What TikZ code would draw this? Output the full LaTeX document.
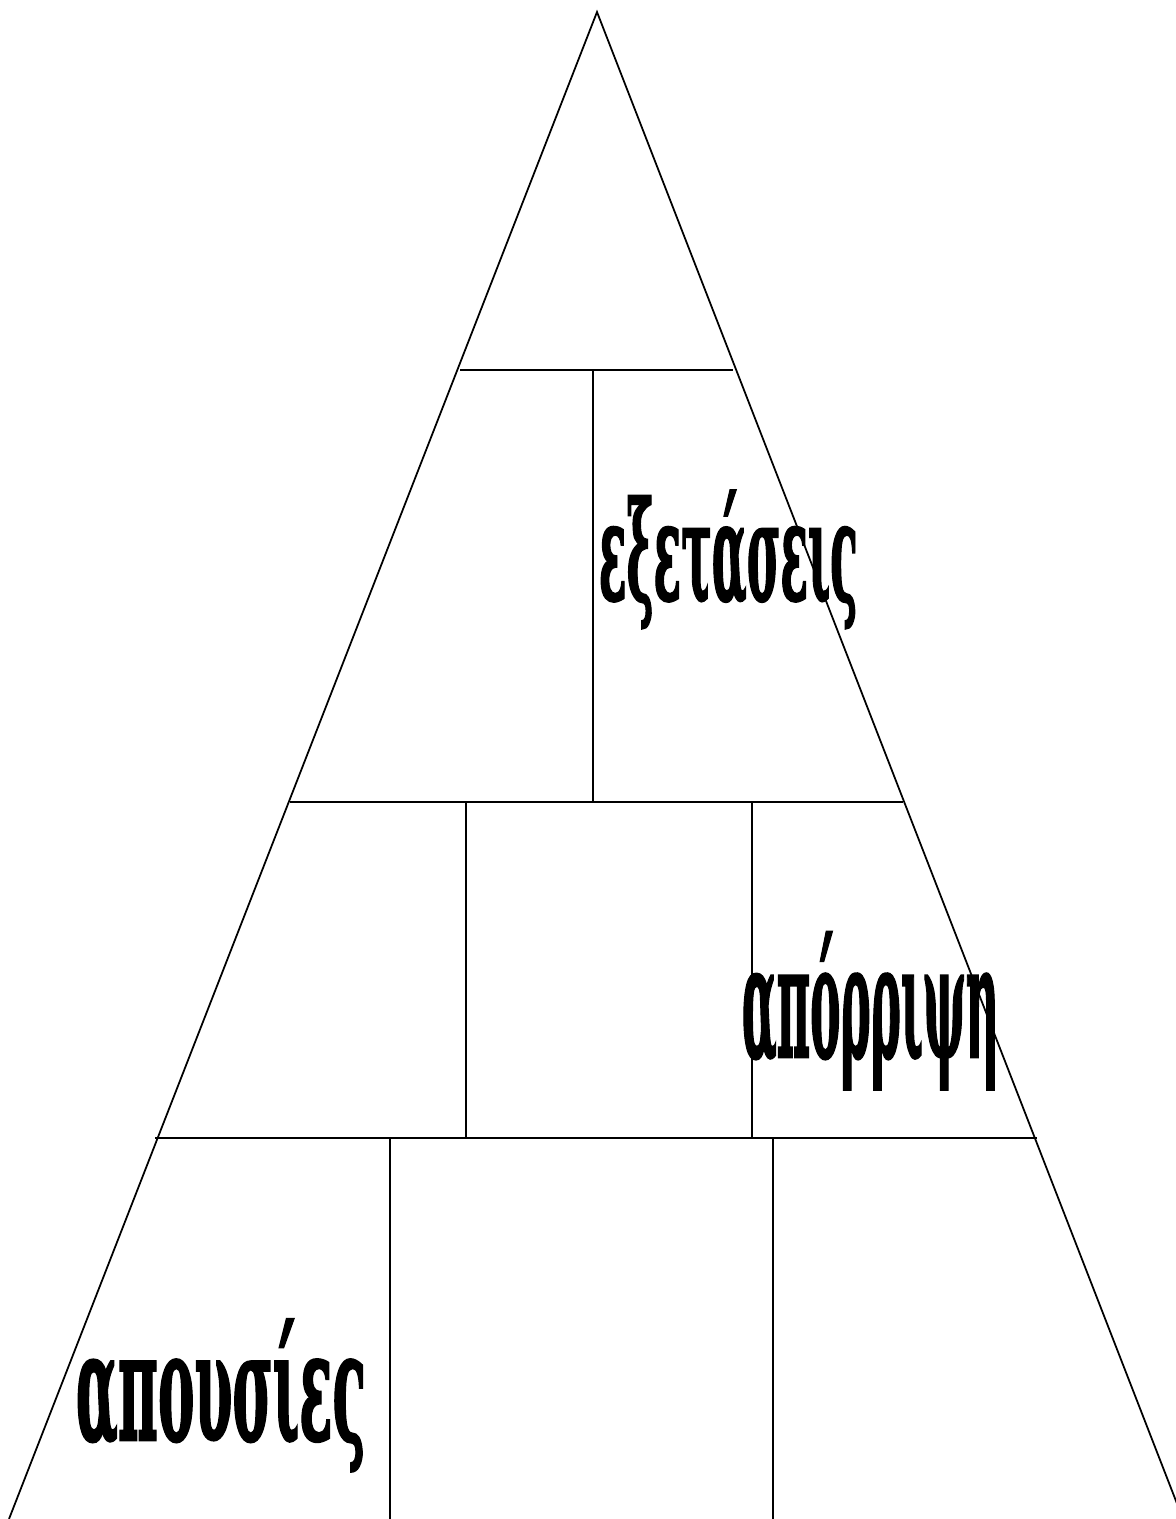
\documentclass[tikz,border=0pt]{standalone}
\usepackage{fontspec}
\setmainfont{DejaVu Serif}
\IfFontExistsTF{DejaVu Serif Condensed Bold}
  {\newfontfamily\wordfont[FakeBold=1.8]{DejaVu Serif Condensed Bold}}
  {\newfontfamily\wordfont[FakeBold=1.8]{DejaVu Serif Bold}}
\newsavebox\wordbox
\newcommand\fitword[3]{% width, font size, text
  \sbox\wordbox{\wordfont\fontsize{#2}{#2}\selectfont #3}%
  \pgfmathsetmacro\wordsx{#1/\wd\wordbox}%
  \scalebox{\wordsx}[1]{\usebox\wordbox}}
\begin{document}
\begin{tikzpicture}[x=0.02cm,y=-0.02cm,line width=1pt,
  word/.style={inner sep=0pt,anchor=base west}]
\useasboundingbox (0,0) rectangle (1176,1519);
\fill[white] (0,0) rectangle (1176,1519);
% triangle
\coordinate (apex) at (597,12);
\coordinate (bl) at (9,1519);
\coordinate (br) at (1183,1519);
\draw (bl) -- (apex) -- (br);
% level 1
\coordinate (h1l) at (460,370); \coordinate (h1r) at (733,370);
\draw (h1l) -- (h1r);
\coordinate (v1t) at (593,370); \coordinate (v1b) at (593,802);
\draw (v1t) -- (v1b);
% level 2
\coordinate (h2l) at (290,802); \coordinate (h2r) at (903,802);
\draw (h2l) -- (h2r);
\coordinate (v2at) at (466,802); \coordinate (v2ab) at (466,1138);
\coordinate (v2bt) at (752,802); \coordinate (v2bb) at (752,1138);
\draw (v2at) -- (v2ab);
\draw (v2bt) -- (v2bb);
% level 3
\coordinate (h3l) at (155,1138); \coordinate (h3r) at (1037,1138);
\draw (h3l) -- (h3r);
\coordinate (v3at) at (390,1138); \coordinate (v3ab) at (390,1519);
\coordinate (v3bt) at (773,1138); \coordinate (v3bb) at (773,1519);
\draw (v3at) -- (v3ab);
\draw (v3bt) -- (v3bb);
% words
\node[word] (w1) at (598,600) {\fitword{5.18cm}{78pt}{εξετάσεις}};
\node[word] (w2) at (741,1057) {\fitword{5.14cm}{89pt}{απόρριψη}};
\node[word] (w3) at (75,1440) {\fitword{5.80cm}{86pt}{απουσίες}};
\end{tikzpicture}
\end{document}
